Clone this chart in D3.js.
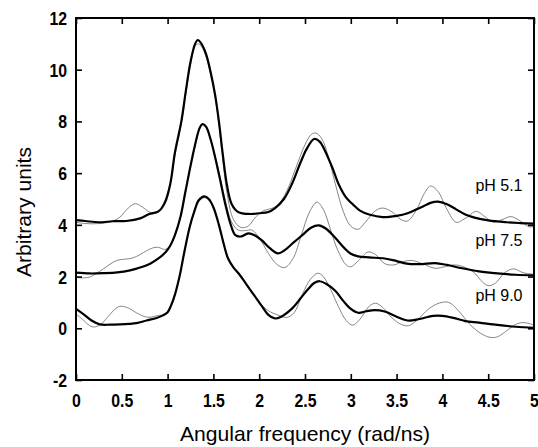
<!DOCTYPE html>
<html>
<head>
<meta charset="utf-8">
<script src="https://cdn.jsdelivr.net/npm/d3@7"></script>
<style>
  body { margin: 0; background: #fff; }
  svg { display: block; }
</style>
</head>
<body>
<svg id="chart" width="538" height="447"></svg>
<script>
// values, [frequency, intensity]
const fit51 = [[0,4.18],[0.1,4.15],[0.25,4.1],[0.4,4.14],[0.55,4.15],[0.7,4.25],[0.8,4.42],[0.9,4.52],[0.97,4.85],[1.03,5.6],[1.08,6.8],[1.15,8.0],[1.2,9.2],[1.25,10.3],[1.3,11.0],[1.33,11.15],[1.37,11.0],[1.42,10.6],[1.47,9.9],[1.52,9.0],[1.56,8.0],[1.6,6.8],[1.65,5.5],[1.7,4.8],[1.77,4.5],[1.9,4.42],[2.0,4.45],[2.1,4.5],[2.17,4.64],[2.27,5.0],[2.36,5.6],[2.45,6.4],[2.52,6.95],[2.6,7.32],[2.66,7.22],[2.72,6.85],[2.8,6.2],[2.87,5.55],[2.95,5.05],[3.02,4.8],[3.1,4.55],[3.2,4.4],[3.35,4.3],[3.5,4.35],[3.62,4.45],[3.77,4.68],[3.87,4.85],[3.95,4.9],[4.05,4.8],[4.15,4.6],[4.25,4.4],[4.35,4.28],[4.5,4.17],[4.7,4.1],[4.85,4.07],[5,4.05]];
const raw51 = [[0,4.1],[0.1,4.05],[0.25,4.05],[0.38,4.12],[0.48,4.3],[0.57,4.65],[0.65,4.82],[0.72,4.7],[0.8,4.5],[0.88,4.45],[0.95,4.8],[1.03,5.6],[1.08,6.7],[1.15,7.9],[1.2,9.1],[1.25,10.2],[1.3,10.9],[1.33,11.0],[1.37,10.9],[1.42,10.5],[1.47,9.8],[1.52,8.9],[1.56,7.9],[1.6,6.6],[1.65,5.2],[1.72,4.2],[1.8,3.9],[1.88,3.95],[1.96,4.3],[2.05,4.55],[2.12,4.62],[2.2,4.75],[2.3,5.3],[2.4,6.2],[2.5,7.1],[2.57,7.5],[2.62,7.55],[2.68,7.35],[2.75,6.7],[2.83,5.6],[2.92,4.5],[3.0,3.95],[3.08,3.83],[3.17,4.15],[3.27,4.55],[3.35,4.65],[3.45,4.5],[3.55,4.2],[3.62,4.15],[3.72,4.6],[3.8,5.2],[3.87,5.5],[3.95,5.3],[4.05,4.6],[4.15,4.1],[4.25,4.25],[4.37,4.52],[4.47,4.3],[4.56,4.1],[4.65,4.2],[4.75,4.32],[4.85,4.15],[4.95,3.92],[5,3.95]];

const fit75 = [[0,2.15],[0.15,2.12],[0.3,2.13],[0.45,2.16],[0.59,2.24],[0.7,2.35],[0.81,2.5],[0.9,2.7],[0.98,2.95],[1.03,3.2],[1.08,3.6],[1.14,4.3],[1.19,5.2],[1.24,6.1],[1.3,7.1],[1.35,7.75],[1.38,7.9],[1.42,7.8],[1.47,7.3],[1.52,6.6],[1.57,5.8],[1.63,4.8],[1.69,4.0],[1.74,3.6],[1.8,3.55],[1.88,3.67],[1.95,3.6],[2.03,3.4],[2.1,3.15],[2.2,2.9],[2.27,3.0],[2.37,3.3],[2.47,3.6],[2.57,3.9],[2.65,3.98],[2.73,3.85],[2.83,3.5],[2.93,3.1],[3.0,2.88],[3.08,2.78],[3.2,2.74],[3.37,2.7],[3.5,2.6],[3.61,2.5],[3.75,2.48],[3.92,2.52],[4.05,2.45],[4.2,2.33],[4.4,2.2],[4.6,2.12],[4.8,2.07],[5,2.05]];
const raw75 = [[0,1.97],[0.08,1.95],[0.15,1.98],[0.22,2.12],[0.3,2.3],[0.38,2.5],[0.45,2.63],[0.55,2.68],[0.62,2.72],[0.7,2.85],[0.77,3.0],[0.85,3.12],[0.9,3.13],[0.97,3.05],[1.03,3.2],[1.08,3.6],[1.14,4.3],[1.19,5.2],[1.24,6.1],[1.3,7.05],[1.35,7.7],[1.38,7.85],[1.42,7.75],[1.47,7.3],[1.52,6.65],[1.57,5.9],[1.63,4.95],[1.7,4.1],[1.77,3.8],[1.85,3.78],[1.92,3.8],[2.0,3.5],[2.1,2.9],[2.2,2.45],[2.28,2.35],[2.37,2.7],[2.46,3.6],[2.55,4.5],[2.63,4.88],[2.7,4.6],[2.78,3.8],[2.86,3.0],[2.95,2.45],[3.0,2.38],[3.08,2.6],[3.19,2.95],[3.27,2.85],[3.37,2.5],[3.47,2.45],[3.57,2.58],[3.67,2.62],[3.78,2.5],[3.92,2.32],[4.0,2.36],[4.14,2.45],[4.25,2.35],[4.35,2.15],[4.42,1.85],[4.5,1.65],[4.58,1.75],[4.68,2.15],[4.78,2.3],[4.88,2.15],[4.97,2.1],[5,2.08]];

const fit90 = [[0,0.75],[0.08,0.55],[0.17,0.3],[0.26,0.15],[0.37,0.14],[0.48,0.15],[0.58,0.17],[0.66,0.2],[0.77,0.3],[0.88,0.4],[0.95,0.5],[1.0,0.62],[1.04,0.9],[1.08,1.3],[1.13,2.0],[1.18,2.9],[1.24,3.9],[1.29,4.5],[1.34,4.95],[1.4,5.1],[1.45,5.0],[1.5,4.68],[1.56,4.0],[1.61,3.3],[1.66,2.7],[1.72,2.35],[1.78,2.1],[1.86,1.7],[1.95,1.25],[2.04,0.8],[2.1,0.52],[2.17,0.38],[2.24,0.45],[2.36,0.77],[2.45,1.15],[2.53,1.5],[2.6,1.75],[2.66,1.82],[2.73,1.72],[2.83,1.45],[2.92,1.05],[2.99,0.78],[3.08,0.6],[3.17,0.66],[3.26,0.7],[3.37,0.65],[3.5,0.45],[3.62,0.3],[3.75,0.36],[3.9,0.48],[4.0,0.48],[4.12,0.4],[4.25,0.28],[4.4,0.22],[4.6,0.13],[4.8,0.06],[5,0.02]];
const raw90 = [[0,0.55],[0.07,0.35],[0.15,0.1],[0.2,0.05],[0.27,0.15],[0.35,0.45],[0.42,0.72],[0.48,0.85],[0.56,0.8],[0.66,0.6],[0.75,0.45],[0.82,0.43],[0.9,0.5],[0.96,0.52],[1.0,0.62],[1.04,0.9],[1.08,1.3],[1.13,2.0],[1.18,2.9],[1.24,3.9],[1.29,4.5],[1.34,4.92],[1.4,5.05],[1.45,4.95],[1.5,4.65],[1.56,4.0],[1.61,3.3],[1.66,2.7],[1.72,2.35],[1.78,2.1],[1.86,1.72],[1.92,1.4],[2.0,1.0],[2.1,0.68],[2.2,0.52],[2.3,0.42],[2.38,0.6],[2.47,1.3],[2.56,1.9],[2.64,2.13],[2.7,2.0],[2.78,1.5],[2.87,0.8],[2.95,0.3],[3.02,0.12],[3.1,0.35],[3.2,0.85],[3.27,0.97],[3.35,0.8],[3.45,0.4],[3.55,0.15],[3.63,0.1],[3.72,0.3],[3.85,0.75],[3.97,0.98],[4.07,1.0],[4.17,0.7],[4.3,0.15],[4.42,-0.2],[4.52,-0.35],[4.6,-0.33],[4.7,-0.1],[4.8,0.15],[4.88,0.22],[4.95,0.18],[5,0.12]];

const seriesNames = ["pH 5.1", "pH 7.5", "pH 9.0"];
const labelAt = [5.3, 3.2, 1.05];   // height of each label, in data units
const xTicks = [0, 0.5, 1, 1.5, 2, 2.5, 3, 3.5, 4, 4.5, 5];
const yTicks = [-2, 0, 2, 4, 6, 8, 10, 12];

const svg = d3.select("#chart");
const plot = { left: 76, right: 534, top: 18, bottom: 380 };

const x = d3.scaleLinear().domain([0, 5]).range([plot.left, plot.right]);
const y = d3.scaleLinear().domain([-2, 12]).range([plot.bottom, plot.top]);

const line = d3.line()
    .x(d => x(d[0]))
    .y(d => y(d[1]))
    .curve(d3.curveCatmullRom.alpha(0.5));

// raw data first (thin grey), fits on top
[raw51, raw75, raw90].forEach(s => {
    svg.append("path")
        .attr("d", line(s))
        .attr("fill", "none")
        .attr("stroke", "#777")
        .attr("stroke-width", 0.9);
});
[fit51, fit75, fit90].forEach(s => {
    svg.append("path")
        .attr("d", line(s))
        .attr("fill", "none")
        .attr("stroke", "#000")
        .attr("stroke-width", 2.2)
        .attr("stroke-linejoin", "round");
});

// axes with inward ticks
const squeeze = 0.88;
const tickFont = "'Liberation Sans', Arial, sans-serif";

const gx = svg.append("g")
    .attr("transform", `translate(0,${plot.bottom})`)
    .call(d3.axisBottom(x).tickValues(xTicks).tickFormat(d => String(d))
        .tickSizeInner(-6).tickSizeOuter(0).tickPadding(0));
gx.selectAll("text")
    .attr("y", 0)
    .attr("dy", 0)
    .attr("transform", `translate(0,27) scale(${squeeze},1)`);

const gy = svg.append("g")
    .attr("transform", `translate(${plot.left},0)`)
    .call(d3.axisLeft(y).tickValues(yTicks).tickFormat(d => String(d))
        .tickSizeInner(-6).tickSizeOuter(0).tickPadding(0));
gy.selectAll("text")
    .attr("x", 0)
    .attr("dy", 0)
    .attr("transform", `translate(-9,6.5) scale(${squeeze},1)`);

svg.append("g")
    .attr("transform", `translate(0,${plot.top})`)
    .call(d3.axisTop(x).tickValues(xTicks).tickFormat("").tickSizeInner(-6).tickSizeOuter(0));
svg.append("g")
    .attr("transform", `translate(${plot.right},0)`)
    .call(d3.axisRight(y).tickValues(yTicks).tickFormat("").tickSizeInner(-6).tickSizeOuter(0));

svg.selectAll(".domain").remove();
svg.selectAll(".tick line").attr("stroke", "#000").attr("stroke-width", 1.6);
svg.selectAll(".tick text")
    .attr("fill", "#000")
    .style("font-family", tickFont)
    .style("font-size", "18px")
    .style("font-weight", "bold");

svg.append("rect")
    .attr("x", plot.left).attr("y", plot.top)
    .attr("width", plot.right - plot.left).attr("height", plot.bottom - plot.top)
    .attr("fill", "none")
    .attr("stroke", "#000")
    .attr("stroke-width", 2);

// series labels
svg.selectAll(".lab")
    .data(seriesNames)
    .enter()
    .append("text")
    .attr("class", "lab")
    .attr("x", x(4.36))
    .attr("y", (d, i) => y(labelAt[i]))
    .style("font-family", "'Liberation Sans', Arial, sans-serif")
    .style("font-size", "16px")
    .text(d => d);

// axis titles
svg.append("text")
    .attr("x", (plot.left + plot.right) / 2)
    .attr("y", 441)
    .attr("text-anchor", "middle")
    .attr("textLength", 250)
    .attr("lengthAdjust", "spacingAndGlyphs")
    .style("font-family", "'Liberation Sans', Arial, sans-serif")
    .style("font-size", "21px")
    .text("Angular frequency (rad/ns)");

svg.append("text")
    .attr("transform", "translate(31,212) rotate(-90)")
    .attr("text-anchor", "middle")
    .attr("textLength", 130)
    .attr("lengthAdjust", "spacingAndGlyphs")
    .style("font-family", "'Liberation Sans', Arial, sans-serif")
    .style("font-size", "21px")
    .text("Arbitrary units");
</script>
</body>
</html>
